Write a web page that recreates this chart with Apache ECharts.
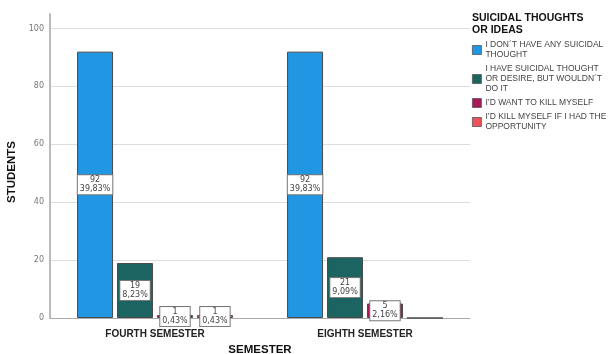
<!DOCTYPE html>
<html>
<head>
<meta charset="utf-8">
<script src="https://cdn.jsdelivr.net/npm/echarts@6/dist/echarts.min.js"></script>
<style>
  html, body { margin: 0; padding: 0; background: #fff; }
  #chart { width: 611px; height: 354px; }
</style>
</head>
<body>
<div id="chart"></div>
<script>
// Semesters on the x axis
const semesters = ['FOURTH SEMESTER', 'EIGHTH SEMESTER'];

// Answer groups (legend entries)
const answers = [
  'I DON\u00B4T HAVE ANY SUICIDAL\nTHOUGHT',
  'I HAVE SUICIDAL THOUGHT\nOR DESIRE, BUT WOULDN\u00B4T\nDO IT',
  'I\u2019D WANT TO KILL MYSELF',
  'I\u2019D KILL MYSELF IF I HAD THE\nOPPORTUNITY'
];

// Student counts per answer, one value per semester
const noThought   = [92, 92];
const noAct       = [19, 21];
const wantKill    = [1, 5];
const wouldKill   = [1, 0];

// Percentages printed in the bar labels
const noThoughtPct = ['39,83%', '39,83%'];
const noActPct     = ['8,23%', '9,09%'];
const wantKillPct  = ['0,43%', '2,16%'];
const wouldKillPct = ['0,43%', ''];

const yTicks = [0, 20, 40, 60, 80, 100];

const colors = ['#2196e3', '#1b6461', '#a8185b', '#f05259'];

const seriesValues = [noThought, noAct, wantKill, wouldKill];
const seriesPct = [noThoughtPct, noActPct, wantKillPct, wouldKillPct];

const chart = echarts.init(document.getElementById('chart'), null, { renderer: 'canvas' });

const series = answers.map((name, i) => ({
  name: name,
  type: 'bar',
  barWidth: 36,
  barGap: '11%',
  itemStyle: { color: colors[i], borderColor: '#4a4a4a', borderWidth: 1 },
  label: {
    position: 'inside',
    fontFamily: 'DejaVu Sans',
    fontSize: 8,
    lineHeight: 9,
    color: '#444',
    backgroundColor: '#fff',
    borderColor: '#777',
    borderWidth: 1,
    padding: [1, 2, 0, 2],
    formatter: p => p.value + '\n' + seriesPct[i][p.dataIndex]
  },
  data: seriesValues[i].map(v => ({ value: v, label: { show: v > 0 } }))
}));

chart.setOption({
  animation: false,
  backgroundColor: '#fff',
  grid: { left: 50, top: 14, width: 420, bottom: 36, containLabel: false, outerBoundsMode: 'none' },
  title: {
    text: 'SUICIDAL THOUGHTS\nOR IDEAS',
    left: 472, top: 12,
    padding: 0,
    textStyle: { fontFamily: 'Liberation Sans', fontSize: 10.5, fontWeight: 'bold', color: '#111', lineHeight: 12 }
  },
  legend: {
    orient: 'vertical',
    left: 470, top: 38,
    padding: 2,
    itemGap: 4,
    itemWidth: 9, itemHeight: 9,
    icon: 'rect',
    align: 'left',
    itemStyle: { borderColor: '#555', borderWidth: 0.8 },
    textStyle: { fontFamily: 'Liberation Sans', fontSize: 8.5, lineHeight: 10, color: '#444', padding: [0, 0, 0, -1] },
    data: answers
  },
  xAxis: {
    type: 'category',
    data: semesters,
    name: 'SEMESTER',
    nameLocation: 'middle',
    nameGap: 24,
    nameTextStyle: { fontFamily: 'Liberation Sans', fontSize: 11.5, fontWeight: 'bold', color: '#111' },
    axisLine: { lineStyle: { color: '#aaa', width: 1 } },
    axisTick: { show: false },
    axisLabel: { fontFamily: 'Liberation Sans', fontSize: 10, fontWeight: 'bold', color: '#222', margin: 11 }
  },
  yAxis: {
    type: 'value',
    min: 0, max: 105, interval: 20,
    name: 'STUDENTS',
    nameLocation: 'middle',
    nameGap: 26,
    nameTextStyle: { fontFamily: 'Liberation Sans', fontSize: 11.5, fontWeight: 'bold', color: '#111', padding: [0, 12, 0, 0] },
    axisLine: { show: true, lineStyle: { color: '#bbb', width: 2 } },
    axisTick: { show: false },
    axisLabel: {
      fontFamily: 'DejaVu Sans', fontSize: 8, color: '#777', margin: 6,
      formatter: v => (yTicks.indexOf(v) >= 0 ? String(v) : '')
    },
    splitLine: { show: true, showMaxLine: false, lineStyle: { color: '#ddd', width: 1 } }
  },
  series: series
});
</script>
</body>
</html>
